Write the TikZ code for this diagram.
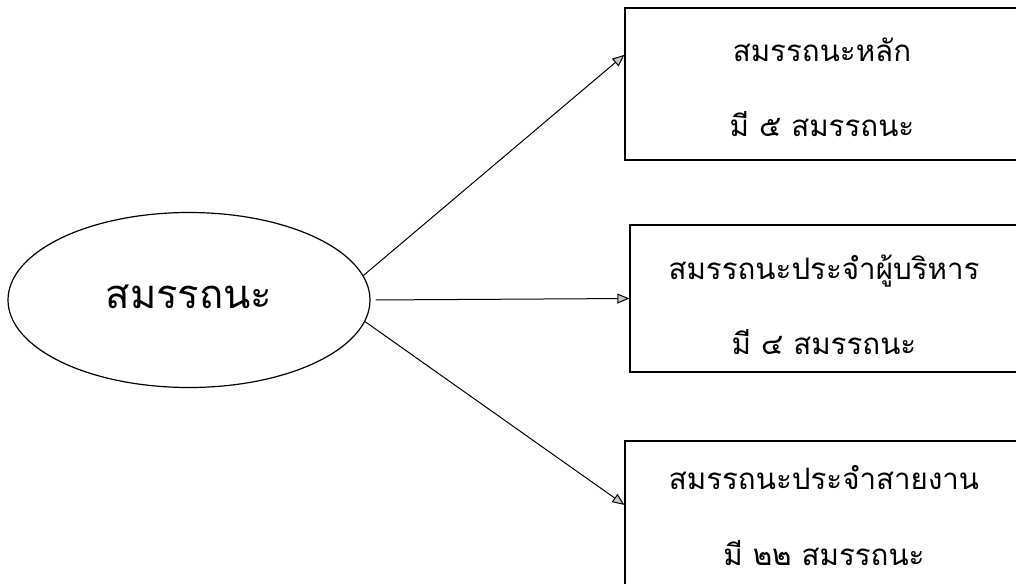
\documentclass[tikz,border=0pt]{standalone}
\usepackage{fontspec}
\newfontfamily\thaifont[Script=Thai]{Loma}
\usetikzlibrary{arrows.meta,shapes.geometric,calc}
\tikzset{
  boxstyle/.style={draw, line width=1.3pt, rectangle, inner sep=0pt},
  boxtext/.style={font=\thaifont\fontsize{29.5}{34}\selectfont, inner sep=0pt, anchor=base},
  conn/.style={line width=1pt, -{Triangle[length=12pt,width=10pt,fill=gray!45]}},
}
\begin{document}
\begin{tikzpicture}[x=1pt,y=-1pt]
\useasboundingbox (0,0) rectangle (1016,583);
\clip (0,0) rectangle (1016,583);
\node[draw, ellipse, line width=1.2pt, minimum width=362pt, minimum height=175pt, inner sep=0pt,
      font=\thaifont\fontsize{40}{44}\selectfont] (ell) at (189,300) {\raisebox{7pt}{สมรรถนะ}};
\node[boxstyle, minimum width=394pt, minimum height=152pt] (top) at (822,84) {};
\node[boxstyle, minimum width=388pt, minimum height=147pt] (mid) at (824,298.5) {};
\node[boxstyle, minimum width=398pt, minimum height=160pt] (bot) at (824,521) {};
\node[boxtext] (t1) at (822,62) {สมรรถนะหลัก};
\node[boxtext] (t2) at (822,136) {มี ๕ สมรรถนะ};
\node[boxtext] (m1) at (824,279) {สมรรถนะประจำผู้บริหาร};
\node[boxtext] (m2) at (824,354) {มี ๔ สมรรถนะ};
\node[boxtext] (b1) at (824,489) {สมรรถนะประจำสายงาน};
\node[boxtext] (b2) at (824,565) {มี ๒๒ สมรรถนะ};
\coordinate (topin) at ($(top.north west)!0.31!(top.south west)$);
\coordinate (botin) at ($(bot.north west)!0.40!(bot.south west)$);
\draw[conn] (ell.8) -- (topin);
\draw[conn, shorten <=5pt] (ell.east) -- (mid.west);
\draw[conn] (ell.-7) -- (botin);
\end{tikzpicture}
\end{document}
